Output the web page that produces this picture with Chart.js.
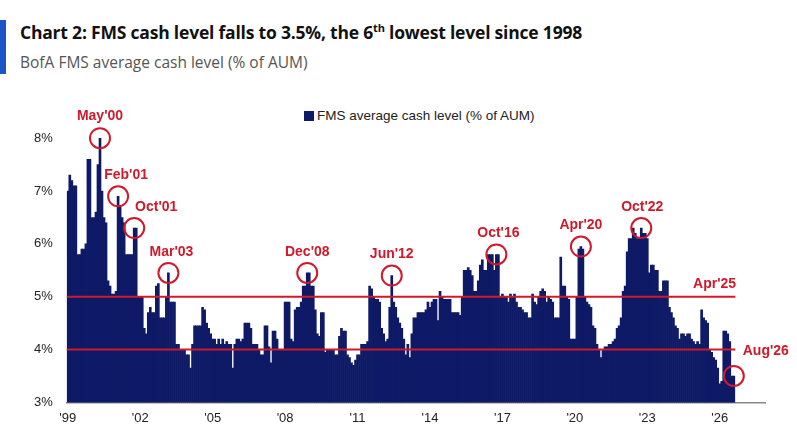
<!DOCTYPE html>
<html lang="en">
<head>
  <meta charset="UTF-8" />
  <title>FMS cash level</title>
  <script src="https://cdn.jsdelivr.net/npm/chart.js"></script>
  <style>
    * { box-sizing: border-box; margin: 0; padding: 0; }
    html, body { width: 797px; height: 436px; background: #fff; font-family: 'Liberation Sans', Arial, sans-serif; overflow: hidden; }
    .bar { position: absolute; left: 0; top: 20px; width: 6px; height: 54px; background: #1a56c8; }
    h1 { position: absolute; left: 20px; top: 20px; font-size: 17.5px; font-weight: bold; color: #111; font-family: 'Open Sans', sans-serif; letter-spacing: -0.2px; }
    h1 sup { font-size: 11px; }
    h2 { position: absolute; left: 20px; top: 51px; font-size: 15.5px; font-weight: normal; color: #555; font-family: 'Open Sans', sans-serif; }
    .legend { position: absolute; left: 304px; top: 108px; font-size: 13.5px; color: #222; font-family: 'Liberation Sans', Arial, sans-serif; }
    .legend span { display: inline-block; width: 10px; height: 10px; background: #0e1a66; margin-right: 3px; vertical-align: -1px; }
    .wrap { position: absolute; left: 0; top: 90px; width: 797px; height: 346px; }
  </style>
</head>
<body>
  <div class="bar"></div>
  <h1>Chart 2: FMS cash level falls to 3.5%, the 6<sup>th</sup> lowest level since 1998</h1>
  <h2>BofA FMS average cash level (% of AUM)</h2>
  <div class="legend"><span></span>FMS average cash level (% of AUM)</div>
  <div class="wrap"><canvas id="chart"></canvas></div>

  <script>
    // monthly readings, Jan '99 .. Aug '26, one row per year
    const cashLevel = [
      7.0, 7.3, 7.2, 7.1, 7.1, 5.8, 5.8, 5.9, 5.9, 6.0, 7.6, 7.6,
      6.5, 6.5, 6.6, 7.5, 8.0, 7.0, 6.5, 6.4, 5.3, 5.2, 5.05, 5.05,
      5.1, 6.9, 6.7, 6.5, 6.4, 5.8, 5.8, 5.8, 5.8, 6.3, 6.3, 5.0,
      5.0, 5.0, 4.4, 4.3, 4.7, 4.8, 4.7, 4.7, 5.2, 5.25, 4.6, 4.6,
      4.6, 5.0, 5.45, 4.9, 4.9, 4.9, 4.1, 4.1, 4.0, 4.0, 4.0, 3.9,
      3.9, 3.65, 4.1, 4.45, 4.45, 4.45, 4.45, 4.8, 4.75, 4.5, 4.4, 4.3,
      4.2, 4.2, 4.1, 4.2, 4.1, 4.2, 4.1, 4.15, 4.1, 4.1, 3.65, 4.1,
      4.2, 4.2, 4.15, 4.2, 4.5, 4.5, 4.5, 4.4, 4.1, 4.1, 4.1, 4.0,
      3.9, 3.9, 4.45, 4.45, 4.05, 3.75, 4.35, 4.35, 4.2, 4.0, 4.0, 4.0,
      4.9, 4.9, 4.9, 4.2, 4.15, 4.75, 4.8, 4.8, 4.9, 5.2, 5.2, 5.45,
      5.45, 5.2, 5.2, 4.75, 4.3, 4.25, 4.7, 4.7, 3.95, 4.0, 4.0, 4.0,
      4.0, 3.9, 3.9, 4.25, 4.4, 4.35, 4.35, 3.9, 3.85, 3.75, 3.7, 3.8,
      3.9, 3.9, 4.1, 4.1, 4.1, 4.15, 5.2, 5.15, 5.0, 4.95, 4.95, 4.9,
      4.4, 4.3, 4.15, 4.2, 4.8, 5.4, 4.9, 4.8, 4.6, 4.5, 4.4, 4.2,
      3.9, 4.1, 3.85, 4.3, 4.6, 4.6, 4.7, 4.7, 4.7, 4.7, 4.75, 4.9,
      4.8, 4.9, 4.95, 4.95, 4.55, 5.1, 5.0, 4.95, 4.95, 4.95, 4.95, 4.7,
      4.7, 4.7, 4.7, 4.65, 5.0, 5.5, 5.5, 5.55, 5.5, 5.4, 5.1, 5.1,
      5.3, 5.6, 5.7, 5.5, 5.5, 5.8, 5.8, 5.8, 5.5, 5.8, 5.8, 5.0,
      5.05, 5.0, 5.0, 4.9, 5.05, 5.0, 5.05, 4.9, 4.8, 4.8, 4.75, 4.7,
      4.7, 4.6, 4.6, 5.05, 4.9, 4.85, 5.0, 5.1, 5.15, 5.1, 4.9, 5.0,
      4.95, 4.9, 4.6, 4.6, 4.6, 5.75, 5.2, 5.2, 5.0, 4.95, 4.2, 4.2,
      4.2, 5.0, 5.9, 5.95, 5.9, 5.0, 4.9, 4.85, 4.8, 4.45, 4.4, 4.1,
      4.0, 3.85, 4.0, 4.05, 4.05, 4.1, 4.1, 4.15, 4.2, 4.4, 4.45, 4.6,
      5.1, 5.2, 5.85, 6.1, 6.1, 6.3, 6.2, 6.1, 6.1, 6.3, 6.2, 6.2,
      6.1, 5.45, 5.6, 5.6, 5.5, 5.5, 5.1, 5.1, 5.3, 5.3, 5.3, 4.8,
      4.7, 4.6, 4.45, 4.4, 4.2, 4.3, 4.3, 4.25, 4.3, 4.3, 4.2, 4.15,
      4.1, 4.15, 4.1, 4.75, 4.6, 4.55, 4.5, 4.0, 3.95, 3.85, 3.8, 3.65,
      3.35, 3.4, 4.35, 4.35, 4.3, 4.15, 3.5, 3.5
    ];
    const startYear = 1999;
    const emptyMonthsAfter = 15;       // blank space at the right end of the axis
    const yTicks = [3, 4, 5, 6, 7, 8];
    const refLines = [5, 4];

    // circled highlights: month index, label, label offset
    const callouts = [
      { i: 16,  text: "May'00", dx: 0,  dy: -22 },
      { i: 25,  text: "Feb'01", dx: 8,  dy: -21 },
      { i: 33,  text: "Oct'01", dx: 22, dy: -21 },
      { i: 50,  text: "Mar'03", dx: 3,  dy: -21 },
      { i: 119, text: "Dec'08", dx: 0,  dy: -21 },
      { i: 161, text: "Jun'12", dx: 0,  dy: -21 },
      { i: 213, text: "Oct'16", dx: 2,  dy: -21 },
      { i: 255, text: "Apr'20", dx: 0,  dy: -21 },
      { i: 285, text: "Oct'22", dx: 1,  dy: -21 },
      { i: 331, text: "Aug'26", dx: 32, dy: -25 }
    ];
    const lineLabel = { text: "Apr'25", value: 5, i: 315, dx: -13, dy: -13 };

    const labels = [];
    for (let m = 0; m < cashLevel.length + emptyMonthsAfter; m++) {
      const y = startYear + Math.floor(m / 12);
      labels.push(m % 36 === 0 ? "'" + String(y).slice(2) : '');
    }

    const RED = '#d0192b';
    const annotate = {
      id: 'annotate',
      afterDatasetsDraw(chart) {
        const { ctx, chartArea, scales: { x, y } } = chart;
        const lastX = x.getPixelForValue(cashLevel.length - 1) + 1.5;
        ctx.save();
        ctx.strokeStyle = RED;
        ctx.lineWidth = 2;
        refLines.forEach(v => {
          const py = y.getPixelForValue(v);
          ctx.beginPath(); ctx.moveTo(chartArea.left, py); ctx.lineTo(lastX, py); ctx.stroke();
        });
        ctx.fillStyle = RED;
        ctx.font = 'bold 14px "Liberation Sans", Arial, sans-serif';
        ctx.textAlign = 'center';
        ctx.textBaseline = 'middle';
        callouts.forEach(c => {
          const px = x.getPixelForValue(c.i);
          const py = y.getPixelForValue(cashLevel[c.i]);
          ctx.beginPath(); ctx.arc(px, py, 10, 0, Math.PI * 2); ctx.stroke();
          ctx.fillText(c.text, px + c.dx, py + c.dy);
        });
        ctx.fillText(lineLabel.text, x.getPixelForValue(lineLabel.i) - lineLabel.dx,
                     y.getPixelForValue(lineLabel.value) + lineLabel.dy);
        ctx.restore();
      }
    };

    new Chart(document.getElementById('chart'), {
      type: 'bar',
      data: {
        labels: labels,
        datasets: [{
          label: 'FMS average cash level (% of AUM)',
          data: cashLevel,
          backgroundColor: '#0e1a66',
          barPercentage: 1,
          categoryPercentage: 1
        }]
      },
      options: {
        responsive: true,
        maintainAspectRatio: false,
        animation: false,
        layout: { padding: { top: 20, right: 32, left: 20, bottom: 2 } },
        plugins: { legend: { display: false }, tooltip: { enabled: false } },
        scales: {
          x: {
            grid: { display: false, drawTicks: false },
            border: { color: '#888', width: 1.5 },
            ticks: { autoSkip: false, maxRotation: 0, padding: 8, color: '#222',
                     font: { size: 13, family: '"Liberation Sans", Arial' } }
          },
          y: {
            min: 3, max: 8.5,
            afterBuildTicks(axis) { axis.ticks = yTicks.map(v => ({ value: v })); },
            grid: { display: false, drawTicks: false },
            border: { display: false },
            ticks: { padding: 14, color: '#222', callback: v => v + '%',
                     font: { size: 13, family: '"Liberation Sans", Arial' } }
          }
        }
      },
      plugins: [annotate]
    });
  </script>
</body>
</html>
